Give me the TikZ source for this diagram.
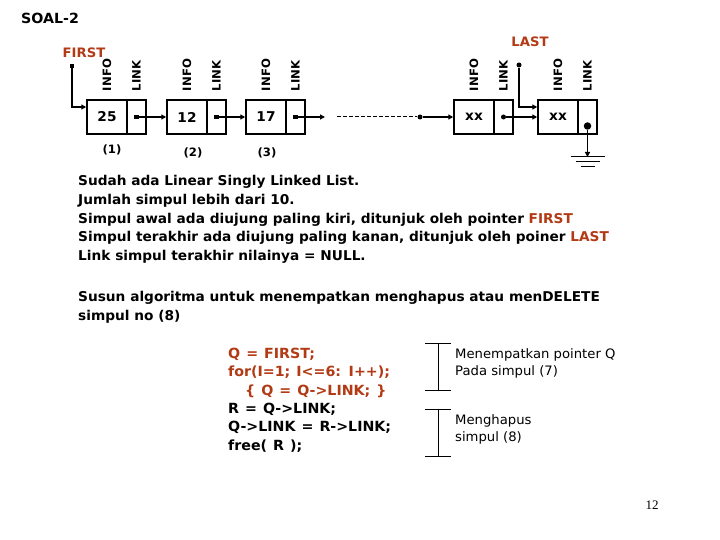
\documentclass[tikz,border=0pt]{standalone}
\usepackage{fontspec}
\setmainfont{DejaVu Sans}[FakeStretch=1.015]
\newfontfamily\pgnumfont{Liberation Serif}
\newcommand\mycodefont{\fontsize{14}{18.3}\selectfont\bfseries\spaceskip=6pt plus 1pt\relax}
\usetikzlibrary{arrows.meta}
\definecolor{brn}{RGB}{178,58,20}
\begin{document}
\begin{tikzpicture}[x=1pt,y=-1pt,
  infobox/.style={draw,line width=1.5pt,minimum width=40pt,minimum height=34pt,inner sep=0,font=\fontsize{13.5}{13.5}\selectfont\bfseries},
  linkbox/.style={draw,line width=1.5pt,minimum width=19pt,minimum height=34pt,inner sep=0},
  fld/.style={rotate=90,anchor=west,inner sep=0,font=\fontsize{11.5}{11.5}\selectfont\bfseries},
  arr/.style={line width=1.3pt,-{Triangle[length=5pt,width=5pt]}},
  ptrdot/.style={circle,fill,inner sep=0,minimum size=5pt},
  sqdot/.style={rectangle,fill,inner sep=0,minimum size=4.5pt},
  ptrlabel/.style={text=brn,font=\fontsize{13}{13}\selectfont\bfseries,inner sep=0},
  numlabel/.style={font=\fontsize{11.5}{11.5}\selectfont\bfseries,inner sep=0},
  para/.style={anchor=north west,align=left,inner sep=0,font=\fontsize{13.5}{18.8}\selectfont\bfseries},
  codetext/.style={anchor=north west,align=left,inner sep=0,font=\mycodefont},
  note/.style={anchor=north west,align=left,inner sep=0,font=\fontsize{13}{17.5}\selectfont},
  brk/.style={line width=1pt}]
\useasboundingbox[fill=white] (0,0) rectangle (720,540);

\node[inner sep=0,font=\fontsize{14}{14}\selectfont\bfseries] (title) at (50,18) {SOAL-2};

% list nodes
\node[infobox] (n1i) at (107,117) {25};
\node[linkbox] (n1l) at (136.5,117) {};
\node[infobox] (n2i) at (187,117) {12};
\node[linkbox] (n2l) at (216.5,117) {};
\node[infobox] (n3i) at (266,117) {17};
\node[linkbox] (n3l) at (295.5,117) {};
\node[infobox] (n4i) at (474,117) {xx};
\node[linkbox] (n4l) at (503.5,117) {};
\node[infobox] (n5i) at (558,117) {xx};
\node[linkbox] (n5l) at (587.5,117) {};

% field labels
\foreach \n in {1,...,5}{
  \node[fld] (info\n) at ([yshift=8pt]n\n i.north) {INFO};
  \node[fld] (link\n) at ([yshift=8pt]n\n l.north) {LINK};
}

% number labels
\node[numlabel] (c1) at (112,150) {(1)};
\node[numlabel] (c2) at (193,153) {(2)};
\node[numlabel] (c3) at (267,153) {(3)};

% link dots and arrows
\node[sqdot] (d1) at (n1l.center) {};
\node[sqdot] (d2) at (n2l.center) {};
\node[sqdot] (d3) at (n3l.center) {};
\node[ptrdot] (d4) at (n4l.center) {};
\node[circle,fill,inner sep=0,minimum size=7.5pt] (d5) at (587.5,126) {};
\draw[arr] (d1) -- (n2i.west);
\draw[arr] (d2) -- (n3i.west);
\coordinate (a3) at (325,117);
\draw[arr] (d3) -- (a3);
\coordinate (ds) at (337,117);
\node[ptrdot] (d0) at (420,117) {};
\draw[line width=1pt,dash pattern=on 4pt off 2pt] (ds) -- (d0);
\draw[arr] (d0) -- (n4i.west);
\draw[arr] (d4) -- (n5i.west);

% ground
\coordinate (g) at (587.5,157);
\draw[arr] (d5) -- (g);
\draw[brk] ([shift={(-17,0)}]g) -- ([shift={(17,0)}]g);
\draw[brk] ([shift={(-12,5)}]g) -- ([shift={(12,5)}]g);
\draw[brk] ([shift={(-7,10)}]g) -- ([shift={(7,10)}]g);

% FIRST and LAST pointers
\node[ptrlabel] (first) at (84,53) {FIRST};
\node[sqdot] (fp) at (72,66) {};
\draw[arr] (fp) |- ([yshift=10pt]n1i.west);
\node[ptrlabel] (last) at (530,42) {LAST};
\node[ptrdot] (lp) at (519,65) {};
\draw[arr] (lp) |- ([yshift=10pt]n5i.west);

% description
\node[para] (desc) at (78,175) {Sudah ada Linear Singly Linked List.\\
Jumlah simpul lebih dari 10.\\
Simpul awal ada diujung paling kiri, ditunjuk oleh pointer \textcolor{brn}{FIRST}\\
Simpul terakhir ada diujung paling kanan, ditunjuk oleh poiner \textcolor{brn}{LAST}\\
Link simpul terakhir nilainya = NULL.};
\node[para] (task) at (78,291) {Susun algoritma untuk menempatkan menghapus atau menDELETE\\
simpul no (8)};

% code
\node[codetext] (code) at (228,348) {\textcolor{brn}{Q = FIRST;}\\
\textcolor{brn}{for(I=1; I<=6: I++);}\\
\hspace*{17pt}\textcolor{brn}{\{ Q = Q->LINK; \}}\\
R = Q->LINK;\\
Q->LINK = R->LINK;\\
free( R );};

% brackets
\draw[brk] (425,343) -- (451,343);
\draw[brk] (438,343) -- (438,390);
\draw[brk] (425,390) -- (451,390);
\draw[brk] (425,409) -- (451,409);
\draw[brk] (438,409) -- (438,456);
\draw[brk] (425,456) -- (451,456);

\node[note] (note1) at (455,348) {Menempatkan pointer Q\\Pada simpul (7)};
\node[note] (note2) at (455,414) {Menghapus\\simpul (8)};

\node[inner sep=0,font=\pgnumfont\fontsize{13}{13}\selectfont] (page) at (652,505) {12};
\end{tikzpicture}
\end{document}
